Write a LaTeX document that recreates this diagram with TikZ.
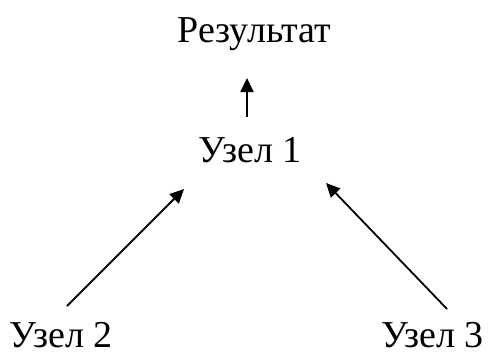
\documentclass[tikz,border=0pt]{standalone}
\usepackage{fontspec}
\setmainfont{Liberation Serif}
\usetikzlibrary{arrows.meta,calc}
\begin{document}
\begin{tikzpicture}[x=1pt,y=-1pt,
  lbl/.style={inner sep=0pt, anchor=base, font=\fontsize{38}{42}\selectfont},
  arr/.style={line width=1.8pt, -{Triangle[length=14pt,width=13pt]}}]
\useasboundingbox (0,0) rectangle (488,356);
\node[lbl] (res) at (254.5,42) {Результат};
\node[lbl] (u1) at (250,162) {Узел 1};
\node[lbl] (u2) at (61,347) {Узел 2};
\node[lbl] (u3) at (432.5,347) {Узел 3};
\draw[arr] ($(u1.base)+(-3,-45)$) -- ($(res.base)+(-7.5,36)$);
\draw[arr] ($(u2.base)+(6,-41)$) -- ($(u1.base)+(-66,27)$);
\draw[arr] ($(u3.base)+(14.5,-38)$) -- ($(u1.base)+(76,21)$);
\end{tikzpicture}
\end{document}
